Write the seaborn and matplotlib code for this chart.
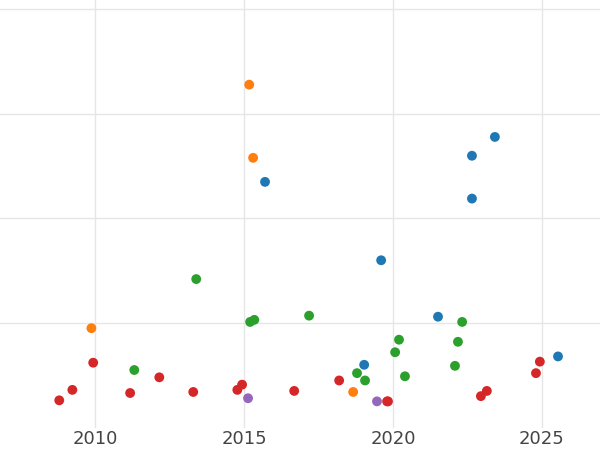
import matplotlib
matplotlib.use("Agg")
import matplotlib.pyplot as plt
import seaborn as sns
import pandas as pd

# 값
orange_x = [2015.17, 2015.30, 2009.87, 2018.66]
orange_y = [3.28, 2.58, 0.95, 0.34]
blue_x = [2015.70, 2022.65, 2023.42, 2022.65, 2019.60, 2021.51, 2019.03, 2025.54]
blue_y = [2.35, 2.60, 2.78, 2.19, 1.60, 1.06, 0.60, 0.68]
green_x = [2013.39, 2015.20, 2015.34, 2017.18, 2011.31, 2020.20, 2022.32, 2022.18,
           2020.07, 2018.79, 2019.06, 2020.40, 2022.08]
green_y = [1.42, 1.01, 1.03, 1.07, 0.55, 0.84, 1.01, 0.82, 0.72, 0.52, 0.45, 0.49, 0.59]
red_x = [2009.93, 2009.23, 2008.79, 2011.17, 2012.15, 2013.29, 2014.77, 2014.93,
         2016.68, 2018.19, 2019.80, 2019.83, 2022.95, 2023.15, 2024.80, 2024.93]
red_y = [0.62, 0.36, 0.26, 0.33, 0.48, 0.34, 0.36, 0.41, 0.35, 0.45, 0.25, 0.25,
         0.30, 0.35, 0.52, 0.63]
purple_x = [2015.13, 2019.46]
purple_y = [0.28, 0.25]

groups = ["blue", "orange", "green", "red", "purple"]
xs = [blue_x, orange_x, green_x, red_x, purple_x]
ys = [blue_y, orange_y, green_y, red_y, purple_y]

rows = []
for g, gx, gy in zip(groups, xs, ys):
    for a, b in zip(gx, gy):
        rows.append({"year": a, "value": b, "group": g})
df = pd.DataFrame(rows)

sns.set_theme(style="whitegrid")
fig = plt.figure(figsize=(6, 4.5), dpi=100)
ax = fig.add_axes([0, 0.05, 1, 0.95])
sns.scatterplot(data=df, x="year", y="value", hue="group", hue_order=groups,
                palette=sns.color_palette("tab10", 5), s=50, edgecolor="none",
                legend=False, ax=ax)
ax.set_xlim(2006.8, 2026.95)
ax.set_ylim(0, 4.09)
ax.set_xticks([2010, 2015, 2020, 2025])
ax.set_yticks([1, 2, 3, 4])
ax.set_yticklabels([])
ax.set_xlabel("")
ax.set_ylabel("")
ax.tick_params(axis="x", labelsize=13, colors="#444444", pad=-4)
ax.grid(color="#e6e6e6")
for s in ax.spines.values():
    s.set_visible(False)
fig.savefig("out.png")
